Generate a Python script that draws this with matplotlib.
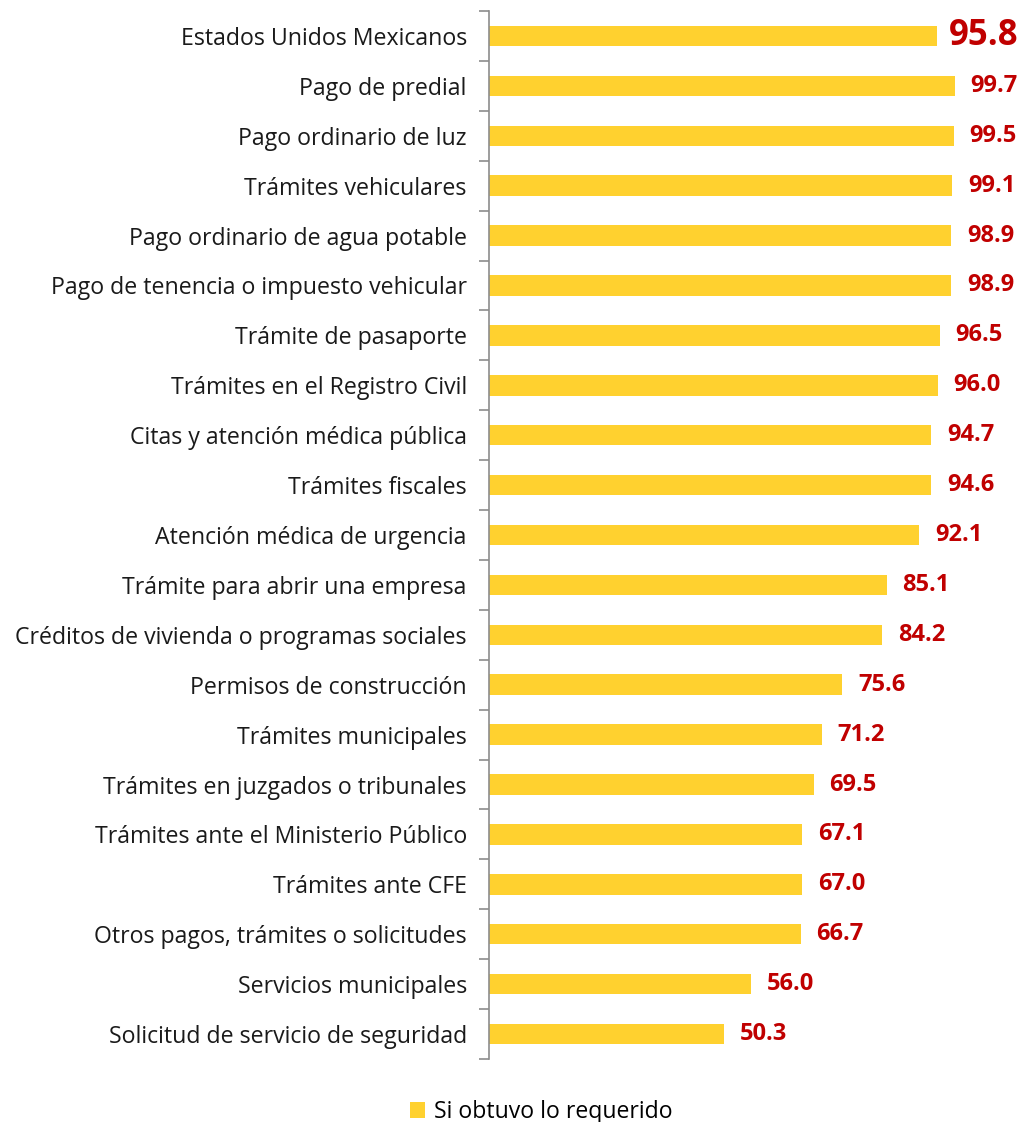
import matplotlib
matplotlib.use("Agg")
import matplotlib.pyplot as plt
from matplotlib.patches import Patch
import numpy as np

categories = [
    "Estados Unidos Mexicanos",
    "Pago de predial",
    "Pago ordinario de luz",
    "Trámites vehiculares",
    "Pago ordinario de agua potable",
    "Pago de tenencia o impuesto vehicular",
    "Trámite de pasaporte",
    "Trámites en el Registro Civil",
    "Citas y atención médica pública",
    "Trámites fiscales",
    "Atención médica de urgencia",
    "Trámite para abrir una empresa",
    "Créditos de vivienda o programas sociales",
    "Permisos de construcción",
    "Trámites municipales",
    "Trámites en juzgados o tribunales",
    "Trámites ante el Ministerio Público",
    "Trámites ante CFE",
    "Otros pagos, trámites o solicitudes",
    "Servicios municipales",
    "Solicitud de servicio de seguridad",
]
values = [95.8, 99.7, 99.5, 99.1, 98.9, 98.9, 96.5, 96.0, 94.7, 94.6, 92.1,
          85.1, 84.2, 75.6, 71.2, 69.5, 67.1, 67.0, 66.7, 56.0, 50.3]
series_name = "Si obtuvo lo requerido"

bar_color = "#FFD12F"
label_color = "#C00000"
font = "Open Sans"

W, H = 1023, 1122
fig = plt.figure(figsize=(W / 100, H / 100), dpi=100)
ax_left = 489 / W
ax_bottom = 1 - 1059 / H
ax_top = 1 - 11 / H
ax = fig.add_axes([ax_left, ax_bottom, 1 - ax_left, ax_top - ax_bottom])

y = np.arange(len(categories))
ax.barh(y, values, height=0.41, color=bar_color, left=0)
ax.set_xlim(0, 114.3)
ax.set_ylim(len(categories) - 0.5, -0.5)

for i, v in enumerate(values):
    if i == 0:
        ax.text(v + 2.7, i, f"{v:.1f}", va="center", ha="left", color=label_color,
                fontsize=25, fontweight="bold", family=font)
    else:
        ax.text(v + 3.4, i, f"{v:.1f}", va="center", ha="left", color=label_color,
                fontsize=17, fontweight="bold", family=font)

ax.set_yticks(y)
ax.set_yticklabels(categories, family=font, fontsize=16.7, color="#1a1a1a")
ax.tick_params(axis="y", which="major", length=0, pad=16)
ax.set_yticks(np.arange(len(categories) + 1) - 0.5, minor=True)
ax.tick_params(axis="y", which="minor", length=7, width=1.2, color="#8c8c8c", direction="out")
ax.set_xticks([])

for s in ["top", "right", "bottom"]:
    ax.spines[s].set_visible(False)
ax.spines["left"].set_color("#8c8c8c")
ax.spines["left"].set_linewidth(1.2)

handle = Patch(facecolor=bar_color, edgecolor="none")
fig.legend([handle], [series_name], loc="center left",
           bbox_to_anchor=(410 / W, 1 - 1112 / H), frameon=False,
           prop={"family": font, "size": 16.6}, handlelength=0.65, handleheight=0.65,
           handletextpad=0.4, borderaxespad=0, borderpad=0)

fig.savefig("out.png", dpi=100)
